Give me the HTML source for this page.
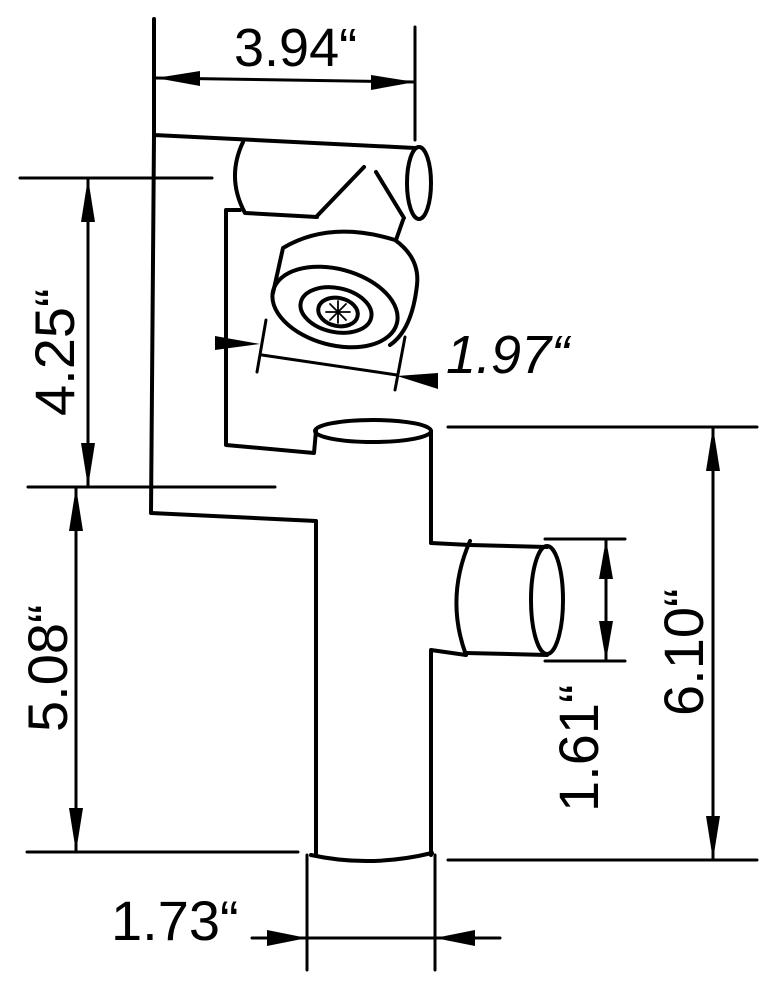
<!DOCTYPE html>
<html><head><meta charset="utf-8"><style>
html,body{margin:0;padding:0;background:#fff}
svg{display:block}
text{font-family:"Liberation Sans",sans-serif;fill:#000}
</style></head><body>
<svg width="776" height="990" viewBox="0 0 776 990" xmlns="http://www.w3.org/2000/svg">
<g fill="none" stroke="#000" stroke-width="4" stroke-linejoin="round" stroke-linecap="round">
<!-- outer frame -->
<path d="M154 19 L154 135 L415 148"/>
<path d="M154 135 L151 513 L316 521 L316 855"/>
<!-- top pipe -->
<path d="M243 142 Q226 178 245 213 L317 217"/>
<ellipse cx="419" cy="183" rx="12" ry="36"/>
<path d="M317 216 L364 167 M376 172 L404 218"/>
<path d="M403 220 L396 240"/>
<!-- head -->
<path d="M273 293 L283 248 Q330 220 395 240 Q420 258 417 285 Q412 330 390 345"/>
<ellipse cx="335" cy="307" rx="64" ry="38" transform="rotate(15 335 307)"/>
<ellipse cx="336" cy="310" rx="36" ry="22" transform="rotate(12 336 310)"/>
<ellipse cx="338" cy="312" rx="20" ry="14" transform="rotate(12 338 312)"/>
<g stroke-width="1.8"><path d="M326 312 L350 312 M338 301 L338 323 M330 304 L346 320 M346 304 L330 320"/></g>
<!-- inner frame -->
<path d="M240 210 L226 210 L226 445 L314 453 L316 431"/>
<!-- main pipe -->
<ellipse cx="373" cy="431" rx="58" ry="11"/>
<path d="M431 431 L431 543 L470 545"/>
<path d="M431 855 L431 650 L466 655"/>
<path d="M311 855 Q370 868 432 853"/>
<!-- side pipe -->
<path d="M470 541 Q445 598 466 655"/>
<path d="M470 545 L547 547 M466 653 L547 655"/>
<ellipse cx="547" cy="600" rx="16" ry="54"/>
<!-- dimension lines -->
<g stroke-width="3">
<path d="M415 27 L415 140"/>
<path d="M156 78 L415 82"/>
<path d="M20 178 L212 178"/>
<path d="M88 178 L88 487"/>
<path d="M28 487 L275 487"/>
<path d="M76 487 L76 852"/>
<path d="M27 852 L298 852"/>
<path d="M448 427 L757 427"/>
<path d="M448 860 L757 860"/>
<path d="M713 427 L713 860"/>
<path d="M545 539 L625 539 M545 661 L625 661"/>
<path d="M606 539 L606 661"/>
<path d="M307 855 L307 970 M435 855 L435 970"/>
<path d="M252 938 L500 938"/>
<path d="M266 320 L257 372 M405 337 L395 390"/>
<path d="M262 355 L397 375"/>
</g>
</g>
<g fill="#000">
<polygon points="156,78 200,71 200,86"/>
<polygon points="415,82 371,75 371,90"/>
<polygon points="88,178 81,222 95,222"/>
<polygon points="88,487 81,443 95,443"/>
<polygon points="76,487 69,531 83,531"/>
<polygon points="76,852 69,808 83,808"/>
<polygon points="713,427 706,471 720,471"/>
<polygon points="713,860 706,816 720,816"/>
<polygon points="606,539 599,579 613,579"/>
<polygon points="606,661 599,621 613,621"/>
<polygon points="307,938 267,930 267,946"/>
<polygon points="435,938 475,930 475,946"/>
<polygon points="215,336 260,344 215,350"/>
<polygon points="438,389 397,376 438,373"/>
</g>
<text x="234" y="66" font-size="54">3.94“</text>
<text x="111" y="940" font-size="56">1.73“</text>
<text x="446" y="373" font-size="54" font-style="italic">1.97“</text>
<text transform="translate(74,416) rotate(-90)" font-size="56">4.25“</text>
<text transform="translate(67,732) rotate(-90)" font-size="56">5.08“</text>
<text transform="translate(703,716) rotate(-90)" font-size="56">6.10“</text>
<text transform="translate(598,812) rotate(-90)" font-size="56">1.61“</text>
</svg>
</body></html>
